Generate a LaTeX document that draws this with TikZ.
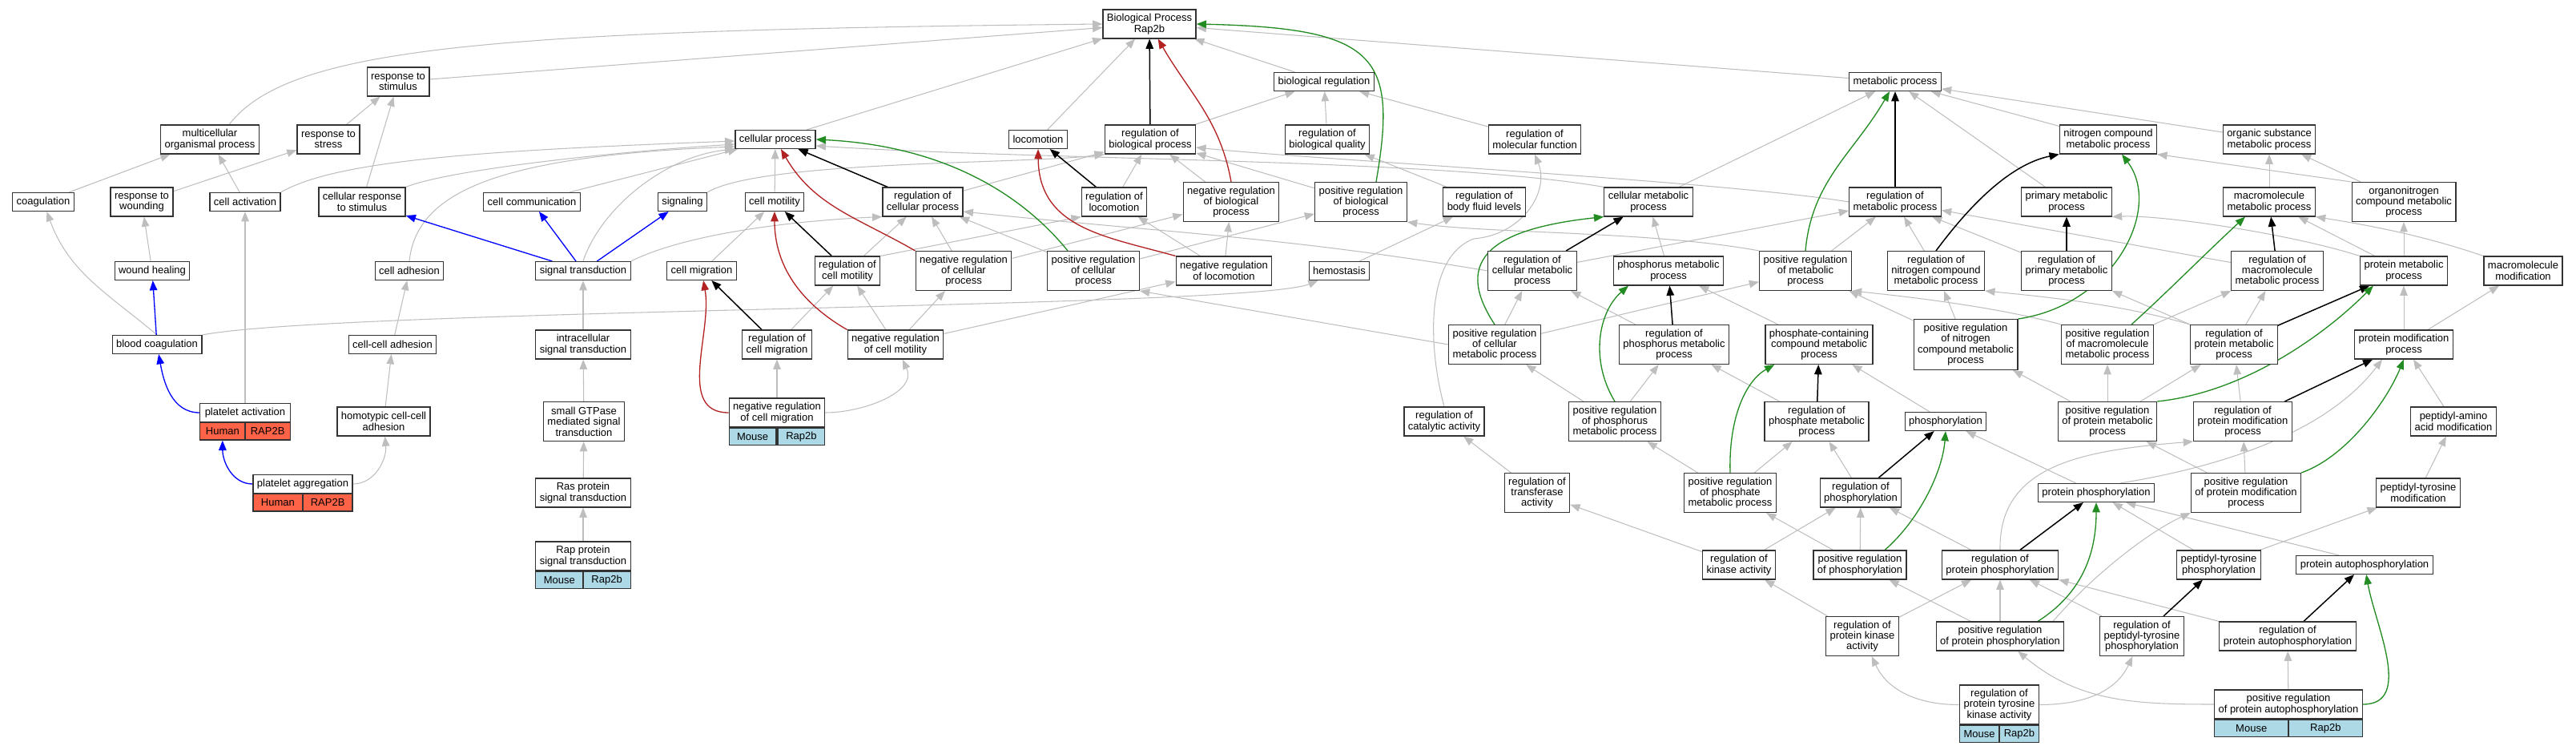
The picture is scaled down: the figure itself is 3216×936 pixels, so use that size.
\documentclass[tikz,border=0pt]{standalone}
\usepackage{fontspec}
\setmainfont{Liberation Sans}
\usetikzlibrary{arrows.meta,backgrounds,calc}
\definecolor{edgegray}{RGB}{190,190,190}
\definecolor{negred}{RGB}{178,34,34}
\definecolor{posgreen}{RGB}{34,139,34}
\definecolor{hum}{RGB}{255,99,71}
\definecolor{mus}{RGB}{173,216,230}

\begin{document}
\begin{tikzpicture}[x=0.02cm,y=-0.02cm,
	>={Triangle[length=7pt,width=5.4pt]},
	term/.style={draw=black!80,line width=0.7pt,fill=white,align=center,inner xsep=2.8pt,inner ysep=0.5pt,font=\fontsize{7.4}{7.6}\selectfont},
	h1/.style={minimum height=13pt},
	h2/.style={minimum height=20.4pt},
	h3/.style={minimum height=27.8pt},
	h4/.style={minimum height=35.7pt},
	cell/.style={draw=black!80,line width=0.7pt,inner sep=0pt,minimum height=12.2pt,font=\fontsize{7.4}{7.6}\selectfont},
	isa/.style={->,draw=edgegray,line width=0.6pt},
	partof/.style={->,draw=blue,line width=0.75pt},
	reg/.style={->,draw=black,line width=0.85pt},
	negreg/.style={->,draw=negred,line width=0.75pt},
	posreg/.style={->,draw=posgreen,line width=0.75pt}]
	\useasboundingbox (0,0) rectangle (3216,936);

	\node[term,h2] (bp) at (1435,30) {Biological Process\\Rap2b};
	\node[term,h2] (respstim) at (497,102) {response to\\stimulus};
	\node[term,h1] (bioreg) at (1653,102) {biological regulation};
	\node[term,h1] (metab) at (2366,102) {metabolic process};

	\node[term,h2] (multi) at (262,174) {multicellular\\organismal process};
	\node[term,h2] (respstress) at (410,174) {response to\\stress};
	\node[term,h1] (cellproc) at (968,174) {cellular process};
	\node[term,h1] (locom) at (1296,174) {locomotion};
	\node[term,h2] (regbio) at (1436,174) {regulation of\\biological process};
	\node[term,h2] (regqual) at (1657,174) {regulation of\\biological quality};
	\node[term,h2] (regmolf) at (1916,174) {regulation of\\molecular function};
	\node[term,h2] (nitro) at (2632,174) {nitrogen compound\\metabolic process};
	\node[term,h2] (orgsub) at (2833,174) {organic substance\\metabolic process};

	\node[term,h1] (coag) at (54,252) {coagulation};
	\node[term,h2] (respwound) at (177,252) {response to\\wounding};
	\node[term,h1] (cellact) at (306,252) {cell activation};
	\node[term,h2] (cellresp) at (452,252) {cellular response\\to stimulus};
	\node[term,h1] (cellcomm) at (664,252) {cell communication};
	\node[term,h1] (signaling) at (852,252) {signaling};
	\node[term,h1] (cellmot) at (967,252) {cell motility};
	\node[term,h2] (regcellproc) at (1152,252) {regulation of\\cellular process};
	\node[term,h2] (reglocom) at (1391,252) {regulation of\\locomotion};
	\node[term,h3] (negregbio) at (1537,252) {negative regulation\\of biological\\process};
	\node[term,h3] (posregbio) at (1699,252) {positive regulation\\of biological\\process};
	\node[term,h2] (regfluid) at (1853,252) {regulation of\\body fluid levels};
	\node[term,h2] (cellmet) at (2058,252) {cellular metabolic\\process};
	\node[term,h2] (regmet) at (2366,252) {regulation of\\metabolic process};
	\node[term,h2] (primary) at (2580,252) {primary metabolic\\process};
	\node[term,h2] (macromet) at (2833,252) {macromolecule\\metabolic process};
	\node[term,h3] (orgnitro) at (3001,252) {organonitrogen\\compound metabolic\\process};

	\node[term,h1] (woundheal) at (190,338) {wound healing};
	\node[term,h1] (celladh) at (511,338) {cell adhesion};
	\node[term,h1] (sigtrans) at (728,338) {signal transduction};
	\node[term,h1] (cellmig) at (876,338) {cell migration};
	\node[term,h2] (regcellmot) at (1058,338) {regulation of\\cell motility};
	\node[term,h3] (negregcellproc) at (1203,338) {negative regulation\\of cellular\\process};
	\node[term,h3] (posregcellproc) at (1365,338) {positive regulation\\of cellular\\process};
	\node[term,h2] (negreglocom) at (1528,338) {negative regulation\\of locomotion};
	\node[term,h1] (hemostasis) at (1672,338) {hemostasis};
	\node[term,h3] (regcellmet) at (1913,338) {regulation of\\cellular metabolic\\process};
	\node[term,h2] (phosmet) at (2083,338) {phosphorus metabolic\\process};
	\node[term,h3] (posregmet) at (2254,338) {positive regulation\\of metabolic\\process};
	\node[term,h3] (regnitro) at (2417,338) {regulation of\\nitrogen compound\\metabolic process};
	\node[term,h3] (regprim) at (2580,338) {regulation of\\primary metabolic\\process};
	\node[term,h3] (regmacro) at (2843,338) {regulation of\\macromolecule\\metabolic process};
	\node[term,h2] (protmet) at (3001,338) {protein metabolic\\process};
	\node[term,h2] (macromod) at (3150,338) {macromolecule\\modification};

	\node[term,h1] (bloodcoag) at (196,430) {blood coagulation};
	\node[term,h1] (cellcelladh) at (490,430) {cell-cell adhesion};
	\node[term,h2] (intrasig) at (728,430) {intracellular\\signal transduction};
	\node[term,h2] (regcellmig) at (970,430) {regulation of\\cell migration};
	\node[term,h2] (negregcellmot) at (1118,430) {negative regulation\\of cell motility};
	\node[term,h3] (posregcellmet) at (1866,430) {positive regulation\\of cellular\\metabolic process};
	\node[term,h3] (regphos) at (2090,430) {regulation of\\phosphorus metabolic\\process};
	\node[term,h3] (phoscont) at (2271,430) {phosphate-containing\\compound metabolic\\process};
	\node[term,h4] (posregnitro) at (2454,430) {positive regulation\\of nitrogen\\compound metabolic\\process};
	\node[term,h3] (posregmacro) at (2631,430) {positive regulation\\of macromolecule\\metabolic process};
	\node[term,h3] (regprotmet) at (2789,430) {regulation of\\protein metabolic\\process};
	\node[term,h2] (protmod) at (3001,430) {protein modification\\process};

	\node[term,h1,minimum width=64.1pt] (pltact) at (306,515) {platelet activation};
	\node[cell,fill=hum,minimum width=32.05pt,anchor=north west] (pltact-h) at (pltact.south west) {Human};
	\node[cell,fill=hum,minimum width=32.05pt,anchor=north east] (pltact-g) at (pltact.south east) {RAP2B};
	\node[term,h2] (homotypic) at (479,526) {homotypic cell-cell\\adhesion};
	\node[term,h3] (smallgtp) at (729,526) {small GTPase\\mediated signal\\transduction};
	\node[term,h2,minimum width=66.9pt] (negregcellmig) at (970,515) {negative regulation\\of cell migration};
	\node[cell,fill=mus,minimum width=33.45pt,anchor=north west] (negregcellmig-m) at (negregcellmig.south west) {Mouse};
	\node[cell,fill=mus,minimum width=33.45pt,anchor=north east] (negregcellmig-g) at (negregcellmig.south east) {Rap2b};
	\node[term,h2] (regcatal) at (1803,526) {regulation of\\catalytic activity};
	\node[term,h3] (posregphos) at (2016,526) {positive regulation\\of phosphorus\\metabolic process};
	\node[term,h3] (regphate) at (2268,526) {regulation of\\phosphate metabolic\\process};
	\node[term,h1] (phosph) at (2429,526) {phosphorylation};
	\node[term,h3] (posregprotmet) at (2631,526) {positive regulation\\of protein metabolic\\process};
	\node[term,h3] (regprotmod) at (2800,526) {regulation of\\protein modification\\process};
	\node[term,h2] (pepamino) at (3063,526) {peptidyl-amino\\acid modification};

	\node[term,h1,minimum width=70.3pt] (pltagg) at (378,604) {platelet aggregation};
	\node[cell,fill=hum,minimum width=35.15pt,anchor=north west] (pltagg-h) at (pltagg.south west) {Human};
	\node[cell,fill=hum,minimum width=35.15pt,anchor=north east] (pltagg-g) at (pltagg.south east) {RAP2B};
	\node[term,h2] (ras) at (728,615) {Ras protein\\signal transduction};
	\node[term,h3] (regtransf) at (1919,615) {regulation of\\transferase\\activity};
	\node[term,h3] (posregphate) at (2160,615) {positive regulation\\of phosphate\\metabolic process};
	\node[term,h2] (regphosph) at (2323,615) {regulation of\\phosphorylation};
	\node[term,h1] (protphos) at (2617,615) {protein phosphorylation};
	\node[term,h3] (posregprotmod) at (2804,615) {positive regulation\\of protein modification\\process};
	\node[term,h2] (peptyrmod) at (3019,615) {peptidyl-tyrosine\\modification};

	\node[term,h2,minimum width=67.5pt] (rap) at (728,694) {Rap protein\\signal transduction};
	\node[cell,fill=mus,minimum width=33.75pt,anchor=north west] (rap-m) at (rap.south west) {Mouse};
	\node[cell,fill=mus,minimum width=33.75pt,anchor=north east] (rap-g) at (rap.south east) {Rap2b};
	\node[term,h2] (regkinase) at (2171,705) {regulation of\\kinase activity};
	\node[term,h2] (posregphosph) at (2322,705) {positive regulation\\of phosphorylation};
	\node[term,h2] (regprotphos) at (2497,705) {regulation of\\protein phosphorylation};
	\node[term,h2] (peptyrphos) at (2770,705) {peptidyl-tyrosine\\phosphorylation};
	\node[term,h1] (protautophos) at (2952,705) {protein autophosphorylation};

	\node[term,h3] (regprotkin) at (2325,794) {regulation of\\protein kinase\\activity};
	\node[term,h2] (posregprotphos) at (2497,794) {positive regulation\\of protein phosphorylation};
	\node[term,h3] (regpeptyr) at (2674,794) {regulation of\\peptidyl-tyrosine\\phosphorylation};
	\node[term,h2] (regautophos) at (2856,794) {regulation of\\protein autophosphorylation};

	\node[term,h3,minimum width=56.7pt] (regptk) at (2496,879.5) {regulation of\\protein tyrosine\\kinase activity};
	\node[cell,fill=mus,minimum width=28.35pt,anchor=north west] (regptk-m) at (regptk.south west) {Mouse};
	\node[cell,fill=mus,minimum width=28.35pt,anchor=north east] (regptk-g) at (regptk.south east) {Rap2b};
	\node[term,h2,minimum width=104.9pt] (posregautophos) at (2857,879) {positive regulation\\of protein autophosphorylation};
	\node[cell,fill=mus,minimum width=52.45pt,anchor=north west] (posregautophos-m) at (posregautophos.south west) {Mouse};
	\node[cell,fill=mus,minimum width=52.45pt,anchor=north east] (posregautophos-g) at (posregautophos.south east) {Rap2b};

	\begin{scope}[on background layer]
	\draw[isa] (coag) -- (multi);
	\draw[isa] (respwound) -- (respstress);
	\draw[isa] (cellact) -- (multi);
	\draw[isa] (cellact.north east) .. controls (420,200) and (600,188) .. ($(cellproc.west)+(0,2)$);
	\draw[isa] (cellresp) -- (respstim);
	\draw[isa] (cellresp.north east) .. controls (560,212) and (760,190) .. ($(cellproc.west)+(0,6)$);
	\draw[isa] (respstress) -- (respstim);
	\draw[isa] ($(multi.north)+(24,0)$) .. controls (360,60) and (600,38) .. (bp.west);
	\draw[isa] (respstim) -- (bp);
	\draw[isa] (woundheal) -- (respwound);
	\draw[isa] (bloodcoag.north) to[out=140,in=-70] (coag);
	\draw[isa] (bloodcoag.north east) .. controls (430,385) and (1560,385) .. ($(hemostasis.south west)+(12,0)$);
	\draw[isa] (celladh.north) .. controls (520,240) and (620,195) .. ($(cellproc.west)+(0,9)$);
	\draw[isa] (cellcelladh) -- (celladh);
	\draw[isa] (pltact) -- (cellact);
	\draw[isa] (pltagg.east) to[out=0,in=-85] (homotypic);
	\draw[isa] (homotypic) -- (cellcelladh);
	\draw[isa] (cellcomm) -- (cellproc);
	\draw[isa] (signaling.north east) .. controls (950,200) and (1280,205) .. (regbio.south west);
	\draw[isa] (cellmot) -- (cellproc);
	\draw[isa] (sigtrans.north) .. controls (750,260) and (830,195) .. (cellproc.south west);
	\draw[isa] (sigtrans.north east) .. controls (860,290) and (1000,275) .. (regcellproc.south west);
	\draw[isa] (cellmig) -- (cellmot);
	\draw[isa] (regcellmot) -- (regcellproc);
	\draw[isa] (regcellmot.north east) -- (reglocom.south west);
	\draw[isa] (intrasig) -- (sigtrans);
	\draw[isa] (regcellmig) -- (regcellmot);
	\draw[isa] (negregcellmot) -- (regcellmot);
	\draw[isa] (negregcellmot) -- (negregcellproc);
	\draw[isa] (negregcellmot) -- (negreglocom);
	\draw[isa] (negregcellmig) -- (regcellmig);
	\draw[isa] (negregcellmig.east) to[out=0,in=-65] (negregcellmot);
	\draw[isa] (smallgtp) -- (intrasig);
	\draw[isa] (ras) -- (smallgtp);
	\draw[isa] (rap) -- (ras);
	\draw[isa] (cellproc) -- (bp);
	\draw[isa] (locom) -- (bp);
	\draw[isa] (bioreg) -- (bp);
	\draw[isa] (metab) -- (bp);
	\draw[isa] (regbio) -- (bioreg);
	\draw[isa] (regqual) -- (bioreg);
	\draw[isa] (regmolf) -- (bioreg);
	\draw[isa] (regcellproc) -- (regbio);
	\draw[isa] (reglocom) -- (regbio);
	\draw[isa] (negregbio) -- (regbio);
	\draw[isa] (negregcellproc) -- (regcellproc);
	\draw[isa] (negregcellproc) -- (negregbio);
	\draw[isa] (posregcellproc) -- (regcellproc);
	\draw[isa] (posregcellproc) -- (posregbio);
	\draw[isa] (negreglocom) -- (reglocom);
	\draw[isa] (negreglocom) -- (negregbio);
	\draw[isa] (posregbio) -- (regbio);
	\draw[isa] (regfluid) -- (regqual);
	\draw[isa] (hemostasis) -- (regfluid);
	\draw[isa] (regcellmet.west) .. controls (1600,295) and (1450,290) .. ($(regcellproc.east)+(0,12)$);
	\draw[isa] (regcellmet) -- (regmet);
	\draw[isa] (cellmet.north west) .. controls (1800,198) and (1300,200) .. ($(cellproc.east)+(0,8)$);
	\draw[isa] (cellmet) -- (metab);
	\draw[isa] (regcatal.north) .. controls (1782,430) and (1780,320) .. (1840,298) .. controls (1900,293) and (1935,240) .. (regmolf.south);
	\draw[isa] (posregcellmet) -- (regcellmet);
	\draw[isa] (posregcellmet.west) -- (posregcellproc.south east);
	\draw[isa] (posregcellmet) -- (posregmet);
	\draw[isa] (phosmet) -- (cellmet);
	\draw[isa] (regphos) -- (regcellmet);
	\draw[isa] (posregphos) -- (regphos);
	\draw[isa] (posregphos) -- (posregcellmet);
	\draw[isa] (regtransf) -- (regcatal);
	\draw[isa] (regkinase) -- (regtransf);
	\draw[isa] (posregphate) -- (posregphos);
	\draw[isa] (posregphate) -- (regphate);
	\draw[isa] (phoscont) -- (phosmet);
	\draw[isa] (regphate) -- (regphos);
	\draw[isa] (posregmet.north west) .. controls (2060,288) and (1860,292) .. (posregbio.south east);
	\draw[isa] (posregmet) -- (regmet);
	\draw[isa] (regmet.west) .. controls (2150,226) and (1650,200) .. ($(regbio.east)+(0,10)$);
	\draw[isa] (nitro) -- (metab);
	\draw[isa] (primary) -- (metab);
	\draw[isa] (orgsub) -- (metab);
	\draw[isa] (regnitro) -- (regmet);
	\draw[isa] (regprim) -- (regmet);
	\draw[isa] (posregnitro) -- (regnitro);
	\draw[isa] (posregnitro) -- (posregmet);
	\draw[isa] (orgnitro.north west) -- (nitro.south east);
	\draw[isa] (orgnitro) -- (orgsub);
	\draw[isa] (macromet) -- (orgsub);
	\draw[isa] (protmet) -- (macromet);
	\draw[isa] (protmet) -- (orgnitro);
	\draw[isa] (protmet.north west) .. controls (2860,292) and (2700,268) .. (primary.south east);
	\draw[isa] (macromod.north west) .. controls (3020,292) and (2950,280) .. (macromet.south east);
	\draw[isa] (regmacro) -- (regmet);
	\draw[isa] (protmod) -- (protmet);
	\draw[isa] (protmod) -- (macromod);
	\draw[isa] (posregmacro) -- (regmacro);
	\draw[isa] (posregmacro.north west) .. controls (2500,385) and (2400,372) .. (posregmet.south east);
	\draw[isa] (regprotmet) -- (regmacro);
	\draw[isa] (regprotmet.north west) .. controls (2650,380) and (2550,370) .. (regnitro.south east);
	\draw[isa] (regprotmet.north west) -- (regprim.south east);
	\draw[isa] (posregprotmet) -- (regprotmet);
	\draw[isa] (posregprotmet) -- (posregmacro);
	\draw[isa] (posregprotmet) -- (posregnitro);
	\draw[isa] (regprotmod) -- (regprotmet);
	\draw[isa] (pepamino) -- (protmod);
	\draw[isa] (regphosph) -- (regphate);
	\draw[isa] (phosph) -- (phoscont);
	\draw[isa] (protphos) -- (phosph);
	\draw[isa] ($(protphos.north)+(30,0)$) .. controls (2820,575) and (2920,520) .. ($(protmod.south)+(-27,0)$);
	\draw[isa] (posregprotmod) -- (regprotmod);
	\draw[isa] (posregprotmod) -- (posregprotmet);
	\draw[isa] (peptyrmod) -- (pepamino);
	\draw[isa] (regkinase) -- (regphosph);
	\draw[isa] (posregphosph) -- (regphosph);
	\draw[isa] (posregphosph) -- (posregphate);
	\draw[isa] (regprotphos) -- (regphosph);
	\draw[isa] (regprotphos.north) .. controls (2495,580) and (2600,562) .. (regprotmod.south west);
	\draw[isa] (peptyrphos) -- (protphos);
	\draw[isa] (peptyrphos) -- (peptyrmod);
	\draw[isa] ($(protautophos.north)+(-32,0)$) -- ($(protphos.south)+(37,0)$);
	\draw[isa] (regprotkin) -- (regkinase);
	\draw[isa] (regprotkin) -- (regprotphos);
	\draw[isa] (posregprotphos) -- (regprotphos);
	\draw[isa] (posregprotphos) -- (posregphosph);
	\draw[isa] ($(posregprotphos.north)+(66,0)$) .. controls (2620,710) and (2690,660) .. (posregprotmod.south west);
	\draw[isa] (regpeptyr) -- (regprotphos);
	\draw[isa] (regautophos.north west) -- (regprotphos.south east);
	\draw[isa] (regptk.west) to[out=180,in=-65] (regprotkin);
	\draw[isa] (regptk.east) to[out=0,in=-115] (regpeptyr);
	\draw[isa] (posregautophos) -- (regautophos);
	\draw[isa] (posregautophos.west) to[out=180,in=-40] (posregprotphos);

	\draw[partof] (bloodcoag) -- (woundheal);
	\draw[partof] (pltact.west) to[out=180,in=-80] (bloodcoag);
	\draw[partof] (pltagg.west) to[out=180,in=-90] (pltact-h.south);
	\draw[partof] (sigtrans) -- (cellresp);
	\draw[partof] (sigtrans) -- (cellcomm);
	\draw[partof] (sigtrans) -- (signaling);

	\draw[reg] (regcellmot) -- (cellmot);
	\draw[reg] (regcellmig) -- (cellmig);
	\draw[reg] (regbio) -- (bp);
	\draw[reg] (regcellproc) -- (cellproc);
	\draw[reg] (reglocom) -- (locom);
	\draw[reg] (regcellmet) -- (cellmet);
	\draw[reg] (regphos) -- (phosmet);
	\draw[reg] (regphate) -- (phoscont);
	\draw[reg] (regmet) -- (metab);
	\draw[reg] (regnitro.north) .. controls (2460,255) and (2510,205) .. (nitro.south west);
	\draw[reg] (regprim) -- (primary);
	\draw[reg] (regmacro) -- (macromet);
	\draw[reg] (regprotmet) -- (protmet);
	\draw[reg] (regprotmod) -- (protmod);
	\draw[reg] (regphosph) -- (phosph);
	\draw[reg] (regprotphos) -- (protphos);
	\draw[reg] (regpeptyr) -- (peptyrphos);
	\draw[reg] (regautophos) -- (protautophos);

	\draw[negreg] (negregcellmot.north west) to[out=150,in=-90] (cellmot.south);
	\draw[negreg] (negregcellmig.west) to[out=180,in=-80] (cellmig);
	\draw[negreg] (negregbio.north) to[out=100,in=-60] (bp);
	\draw[negreg] (negregcellproc.north west) to[out=150,in=-60] (cellproc);
	\draw[negreg] (negreglocom.north west) .. controls (1380,295) and (1297,285) .. (locom.south);

	\draw[posreg] ($(posregbio.north)+(19,0)$) .. controls (1745,70) and (1720,35) .. (bp.east);
	\draw[posreg] ($(posregcellproc.north)+(-32,0)$) .. controls (1290,260) and (1200,183) .. (cellproc.east);
	\draw[posreg] (posregcellmet.north) .. controls (1810,320) and (1870,285) .. (cellmet.south west);
	\draw[posreg] (posregphos.north) .. controls (1985,450) and (1995,390) .. ($(phosmet.south)+(-50,0)$);
	\draw[posreg] (posregphate.north) .. controls (2158,520) and (2180,475) .. ($(phoscont.south west)+(12,0)$);
	\draw[posreg] (posregmet.north) to[out=85,in=-120] (metab);
	\draw[posreg] (posregnitro.north east) .. controls (2640,380) and (2700,260) .. ($(nitro.south)+(17,0)$);
	\draw[posreg] ($(posregmacro.north)+(30,0)$) .. controls (2700,370) and (2760,310) .. ($(macromet.south)+(-30,0)$);
	\draw[posreg] (posregprotmet.north east) .. controls (2800,490) and (2900,420) .. ($(protmet.south)+(-38,0)$);
	\draw[posreg] (posregprotmod.north east) .. controls (2930,570) and (2980,500) .. (protmod.south);
	\draw[posreg] ($(posregphosph.north)+(31,0)$) .. controls (2395,650) and (2425,590) .. (phosph.south);
	\draw[posreg] ($(posregprotphos.north)+(47,0)$) .. controls (2600,740) and (2617,690) .. (protphos.south);
	\draw[posreg] (posregautophos.east) to[out=0,in=-80] (protautophos);
	\end{scope}
\end{tikzpicture}
\end{document}
